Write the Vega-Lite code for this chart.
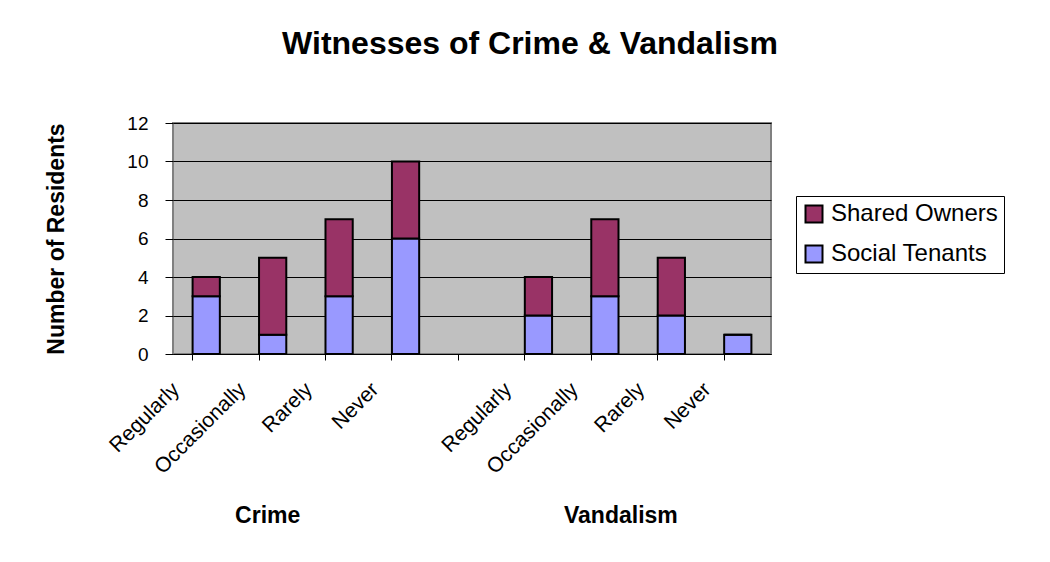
{
  "$schema": "https://vega.github.io/schema/vega-lite/v6.json",
  "width": 598,
  "height": 231,
  "autosize": {"type": "none"},
  "padding": {"left": 173, "top": 123, "right": 279, "bottom": 208},
  "background": "white",
  "title": {
    "text": "Witnesses of Crime & Vandalism",
    "font": "Liberation Sans",
    "fontSize": 32,
    "fontWeight": "bold",
    "color": "black",
    "anchor": "middle",
    "dx": 58,
    "offset": 53
  },
  "data": {
    "values": [
      {"slot": "Crime|Regularly", "group": "Social Tenants", "count": 3},
      {"slot": "Crime|Regularly", "group": "Shared Owners", "count": 1},
      {"slot": "Crime|Occasionally", "group": "Social Tenants", "count": 1},
      {"slot": "Crime|Occasionally", "group": "Shared Owners", "count": 4},
      {"slot": "Crime|Rarely", "group": "Social Tenants", "count": 3},
      {"slot": "Crime|Rarely", "group": "Shared Owners", "count": 4},
      {"slot": "Crime|Never", "group": "Social Tenants", "count": 6},
      {"slot": "Crime|Never", "group": "Shared Owners", "count": 4},
      {"slot": "Vandalism|Regularly", "group": "Social Tenants", "count": 2},
      {"slot": "Vandalism|Regularly", "group": "Shared Owners", "count": 2},
      {"slot": "Vandalism|Occasionally", "group": "Social Tenants", "count": 3},
      {"slot": "Vandalism|Occasionally", "group": "Shared Owners", "count": 4},
      {"slot": "Vandalism|Rarely", "group": "Social Tenants", "count": 2},
      {"slot": "Vandalism|Rarely", "group": "Shared Owners", "count": 3},
      {"slot": "Vandalism|Never", "group": "Social Tenants", "count": 1},
      {"slot": "Vandalism|Never", "group": "Shared Owners", "count": 0}
    ]
  },
  "layer": [
    {
      "mark": {"type": "bar", "stroke": "black", "strokeWidth": 2},
      "encoding": {
        "x": {
          "field": "slot",
          "type": "nominal",
          "scale": {
            "domain": ["Crime|Regularly", "Crime|Occasionally", "Crime|Rarely", "Crime|Never", "gap", "Vandalism|Regularly", "Vandalism|Occasionally", "Vandalism|Rarely", "Vandalism|Never"],
            "paddingInner": 0.59,
            "paddingOuter": 0.295
          },
          "axis": {
            "orient": "bottom",
            "title": null,
            "labelExpr": "datum.value === 'gap' ? '' : replace(datum.value, regexp('^.*[|]'), '')",
            "labelAngle": -45,
            "labelAlign": "right",
            "labelBaseline": "middle",
            "labelFont": "Liberation Sans",
            "labelFontSize": 21,
            "labelColor": "black",
            "labelOverlap": false,
            "labelPadding": 26,
            "labelOffset": -30,
            "bandPosition": 0,
            "tickSize": 6,
            "tickColor": "black",
            "domainColor": "black",
            "domainWidth": 1,
            "grid": false
          }
        },
        "y": {
          "field": "count",
          "type": "quantitative",
          "stack": "zero",
          "scale": {"domain": [0, 12], "nice": false},
          "axis": {
            "title": "Number of Residents",
            "titleFont": "Liberation Sans",
            "titleFontSize": 23,
            "titleFontWeight": "bold",
            "titleColor": "black",
            "titlePadding": 58,
            "values": [0, 2, 4, 6, 8, 10, 12],
            "labelFont": "Liberation Sans",
            "labelFontSize": 19,
            "labelColor": "black",
            "labelPadding": 17,
            "tickSize": 8,
            "tickColor": "black",
            "domain": false,
            "grid": true,
            "gridColor": "black",
            "gridWidth": 1,
            "gridOpacity": 1
          }
        },
        "color": {
          "field": "group",
          "type": "nominal",
          "scale": {"domain": ["Shared Owners", "Social Tenants"], "range": ["#993366", "#9999FF"]},
          "legend": {
            "title": null,
            "orient": "none",
            "legendX": 623,
            "legendY": 73,
            "strokeColor": "black",
            "fillColor": "white",
            "padding": 6,
            "rowPadding": 14,
            "symbolType": "square",
            "symbolSize": 289,
            "symbolStrokeColor": "black",
            "symbolStrokeWidth": 2,
            "symbolOpacity": 1,
            "labelFont": "Liberation Sans",
            "labelFontSize": 24,
            "labelColor": "black",
            "labelOffset": 5,
            "labelLimit": 400
          }
        },
        "order": {"field": "group", "sort": "descending"}
      }
    },
    {
      "mark": {"type": "bar", "opacity": 0},
      "encoding": {
        "x": {
          "field": "slot",
          "type": "nominal",
          "scale": {
            "domain": ["Crime|Regularly", "Crime|Occasionally", "Crime|Rarely", "Crime|Never", "gap", "Vandalism|Regularly", "Vandalism|Occasionally", "Vandalism|Rarely", "Vandalism|Never"],
            "paddingInner": 0.59,
            "paddingOuter": 0.295
          },
          "axis": {
            "orient": "bottom",
            "title": null,
            "values": ["Crime|Occasionally", "Vandalism|Occasionally"],
            "labelExpr": "replace(datum.value, regexp('[|].*$'), '')",
            "labelAngle": 0,
            "labelFont": "Liberation Sans",
            "labelFontSize": 23,
            "labelFontWeight": "bold",
            "labelColor": "black",
            "labelBaseline": "alphabetic",
            "labelPadding": 168,
            "labelOffset": {"condition": {"test": "datum.value === 'Crime|Occasionally'", "value": -5}, "value": 16},
            "ticks": false,
            "domain": false,
            "grid": false
          }
        },
        "y": {
          "field": "count",
          "type": "quantitative",
          "stack": "zero",
          "scale": {"domain": [0, 12], "nice": false},
          "axis": {
            "title": "Number of Residents",
            "titleFont": "Liberation Sans",
            "titleFontSize": 23,
            "titleFontWeight": "bold",
            "titleColor": "black",
            "titlePadding": 58,
            "values": [0, 2, 4, 6, 8, 10, 12],
            "labelFont": "Liberation Sans",
            "labelFontSize": 19,
            "labelColor": "black",
            "labelPadding": 17,
            "tickSize": 8,
            "tickColor": "black",
            "domain": false,
            "grid": true,
            "gridColor": "black",
            "gridWidth": 1,
            "gridOpacity": 1
          }
        }
      }
    }
  ],
  "resolve": {"axis": {"x": "independent"}},
  "config": {
    "view": {"fill": "#C0C0C0", "stroke": "#808080", "strokeWidth": 2}
  }
}
